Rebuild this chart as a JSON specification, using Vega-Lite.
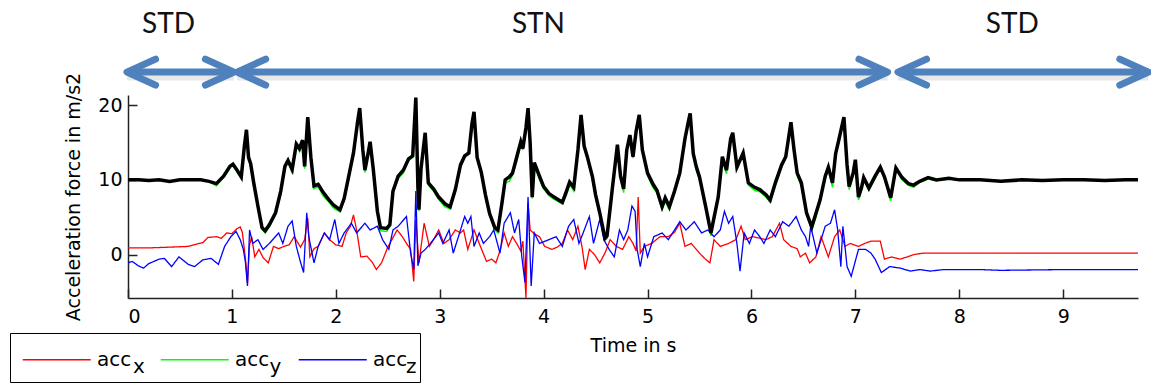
{
"$schema": "https://vega.github.io/schema/vega-lite/v6.json",
"width": 1010, "height": 203,
"autosize": "none",
"padding": {"left": 128, "top": 95, "right": 13, "bottom": 87},
"background": "white",
"config": {
 "view": {"stroke": null},
 "axis": {"labelFont": "DejaVu Sans", "titleFont": "DejaVu Sans", "labelColor": "#000", "titleColor": "#000", "titleFontWeight": "normal", "grid": false, "domainColor": "#222", "tickColor": "#222", "domainWidth": 1.5, "tickWidth": 1.5, "labelFontSize": 19, "titleFontSize": 19}
},
"datasets": {
 "phases": [
  {"phase": "STD", "start": -0.01, "end": 1.02, "label_t": 0.39},
  {"phase": "STN", "start": 1.05, "end": 7.31, "label_t": 3.95},
  {"phase": "STD", "start": 7.41, "end": 9.82, "label_t": 8.51}
 ],
 "acc": [
{"s":"acc_y","t":0,"v":10},{"s":"acc_y","t":0.1,"v":10},{"s":"acc_y","t":0.2,"v":9.9},{"s":"acc_y","t":0.3,"v":10},{"s":"acc_y","t":0.4,"v":9.8},{"s":"acc_y","t":0.5,"v":10},{"s":"acc_y","t":0.6,"v":10},{"s":"acc_y","t":0.7,"v":10},{"s":"acc_y","t":0.78,"v":9.8},{"s":"acc_y","t":0.85,"v":9.2},{"s":"acc_y","t":0.92,"v":10.3},{"s":"acc_y","t":0.98,"v":11.5},{"s":"acc_y","t":1.01,"v":12.1},{"s":"acc_y","t":1.05,"v":11},{"s":"acc_y","t":1.09,"v":10.2},{"s":"acc_y","t":1.12,"v":14.5},{"s":"acc_y","t":1.14,"v":16.7},{"s":"acc_y","t":1.16,"v":12.6},{"s":"acc_y","t":1.18,"v":11.8},{"s":"acc_y","t":1.21,"v":9.4},{"s":"acc_y","t":1.25,"v":6.3},{"s":"acc_y","t":1.29,"v":3.4},{"s":"acc_y","t":1.32,"v":2.9},{"s":"acc_y","t":1.36,"v":3.7},{"s":"acc_y","t":1.42,"v":5.4},{"s":"acc_y","t":1.47,"v":8},{"s":"acc_y","t":1.51,"v":11.6},{"s":"acc_y","t":1.54,"v":12.4},{"s":"acc_y","t":1.58,"v":10.9},{"s":"acc_y","t":1.62,"v":14.6},{"s":"acc_y","t":1.65,"v":13.8},{"s":"acc_y","t":1.68,"v":15.1},{"s":"acc_y","t":1.7,"v":11.5},{"s":"acc_y","t":1.73,"v":18.3},{"s":"acc_y","t":1.76,"v":12.8},{"s":"acc_y","t":1.79,"v":8.8},{"s":"acc_y","t":1.83,"v":9.1},{"s":"acc_y","t":1.88,"v":7.8},{"s":"acc_y","t":1.93,"v":7.1},{"s":"acc_y","t":1.98,"v":6.2},{"s":"acc_y","t":2.04,"v":5.7},{"s":"acc_y","t":2.08,"v":7.2},{"s":"acc_y","t":2.12,"v":9.8},{"s":"acc_y","t":2.17,"v":13.4},{"s":"acc_y","t":2.21,"v":17.6},{"s":"acc_y","t":2.23,"v":19.4},{"s":"acc_y","t":2.26,"v":13.8},{"s":"acc_y","t":2.28,"v":11},{"s":"acc_y","t":2.31,"v":13.3},{"s":"acc_y","t":2.33,"v":14.9},{"s":"acc_y","t":2.36,"v":11},{"s":"acc_y","t":2.4,"v":5.5},{"s":"acc_y","t":2.43,"v":3.2},{"s":"acc_y","t":2.49,"v":3.1},{"s":"acc_y","t":2.52,"v":3.8},{"s":"acc_y","t":2.55,"v":8.2},{"s":"acc_y","t":2.6,"v":10.2},{"s":"acc_y","t":2.65,"v":10.9},{"s":"acc_y","t":2.7,"v":12.6},{"s":"acc_y","t":2.74,"v":13},{"s":"acc_y","t":2.77,"v":20.8},{"s":"acc_y","t":2.79,"v":8.8},{"s":"acc_y","t":2.8,"v":5.8},{"s":"acc_y","t":2.82,"v":11.3},{"s":"acc_y","t":2.86,"v":16.1},{"s":"acc_y","t":2.89,"v":9.3},{"s":"acc_y","t":2.94,"v":8.5},{"s":"acc_y","t":2.99,"v":7.4},{"s":"acc_y","t":3.05,"v":6.4},{"s":"acc_y","t":3.1,"v":6.1},{"s":"acc_y","t":3.15,"v":8.4},{"s":"acc_y","t":3.2,"v":11.7},{"s":"acc_y","t":3.24,"v":13},{"s":"acc_y","t":3.28,"v":13.4},{"s":"acc_y","t":3.31,"v":17.3},{"s":"acc_y","t":3.33,"v":18.9},{"s":"acc_y","t":3.36,"v":12.8},{"s":"acc_y","t":3.4,"v":10.7},{"s":"acc_y","t":3.44,"v":7.6},{"s":"acc_y","t":3.48,"v":5.2},{"s":"acc_y","t":3.53,"v":3.3},{"s":"acc_y","t":3.56,"v":2.9},{"s":"acc_y","t":3.6,"v":6.7},{"s":"acc_y","t":3.63,"v":9.6},{"s":"acc_y","t":3.67,"v":9.8},{"s":"acc_y","t":3.7,"v":10.6},{"s":"acc_y","t":3.74,"v":12.4},{"s":"acc_y","t":3.78,"v":14.9},{"s":"acc_y","t":3.8,"v":14},{"s":"acc_y","t":3.83,"v":16.8},{"s":"acc_y","t":3.85,"v":19.4},{"s":"acc_y","t":3.87,"v":14.8},{"s":"acc_y","t":3.89,"v":7.5},{"s":"acc_y","t":3.91,"v":12},{"s":"acc_y","t":3.96,"v":10},{"s":"acc_y","t":4,"v":8.8},{"s":"acc_y","t":4.05,"v":7.9},{"s":"acc_y","t":4.1,"v":7.4},{"s":"acc_y","t":4.18,"v":6.8},{"s":"acc_y","t":4.22,"v":8},{"s":"acc_y","t":4.25,"v":9.4},{"s":"acc_y","t":4.29,"v":8.5},{"s":"acc_y","t":4.33,"v":13.8},{"s":"acc_y","t":4.36,"v":18.5},{"s":"acc_y","t":4.39,"v":14.3},{"s":"acc_y","t":4.42,"v":12.9},{"s":"acc_y","t":4.47,"v":10},{"s":"acc_y","t":4.5,"v":7.7},{"s":"acc_y","t":4.54,"v":5.3},{"s":"acc_y","t":4.59,"v":1.9},{"s":"acc_y","t":4.61,"v":2.2},{"s":"acc_y","t":4.66,"v":8.4},{"s":"acc_y","t":4.71,"v":14.5},{"s":"acc_y","t":4.74,"v":10.2},{"s":"acc_y","t":4.77,"v":8.3},{"s":"acc_y","t":4.8,"v":13.8},{"s":"acc_y","t":4.83,"v":15.8},{"s":"acc_y","t":4.86,"v":12.9},{"s":"acc_y","t":4.89,"v":16.3},{"s":"acc_y","t":4.92,"v":18.5},{"s":"acc_y","t":4.95,"v":13.8},{"s":"acc_y","t":5,"v":10.6},{"s":"acc_y","t":5.05,"v":9},{"s":"acc_y","t":5.09,"v":8.3},{"s":"acc_y","t":5.14,"v":6.1},{"s":"acc_y","t":5.17,"v":7.1},{"s":"acc_y","t":5.21,"v":6},{"s":"acc_y","t":5.26,"v":8.2},{"s":"acc_y","t":5.31,"v":10.6},{"s":"acc_y","t":5.36,"v":15},{"s":"acc_y","t":5.39,"v":17.4},{"s":"acc_y","t":5.41,"v":18.7},{"s":"acc_y","t":5.44,"v":13.3},{"s":"acc_y","t":5.47,"v":11.2},{"s":"acc_y","t":5.5,"v":10.1},{"s":"acc_y","t":5.56,"v":6.1},{"s":"acc_y","t":5.61,"v":2.5},{"s":"acc_y","t":5.68,"v":7.4},{"s":"acc_y","t":5.72,"v":12.9},{"s":"acc_y","t":5.76,"v":10.8},{"s":"acc_y","t":5.8,"v":15.3},{"s":"acc_y","t":5.82,"v":16.1},{"s":"acc_y","t":5.86,"v":11.4},{"s":"acc_y","t":5.92,"v":13.4},{"s":"acc_y","t":5.97,"v":9.3},{"s":"acc_y","t":6.03,"v":8.6},{"s":"acc_y","t":6.08,"v":8.4},{"s":"acc_y","t":6.14,"v":7.7},{"s":"acc_y","t":6.18,"v":7},{"s":"acc_y","t":6.23,"v":9.2},{"s":"acc_y","t":6.29,"v":11.7},{"s":"acc_y","t":6.33,"v":12.9},{"s":"acc_y","t":6.38,"v":17.5},{"s":"acc_y","t":6.41,"v":13.8},{"s":"acc_y","t":6.44,"v":10.6},{"s":"acc_y","t":6.48,"v":9.2},{"s":"acc_y","t":6.53,"v":5.3},{"s":"acc_y","t":6.58,"v":3.3},{"s":"acc_y","t":6.62,"v":5},{"s":"acc_y","t":6.66,"v":7},{"s":"acc_y","t":6.71,"v":10.2},{"s":"acc_y","t":6.74,"v":11.5},{"s":"acc_y","t":6.78,"v":9},{"s":"acc_y","t":6.81,"v":13.3},{"s":"acc_y","t":6.84,"v":15.1},{"s":"acc_y","t":6.89,"v":18.2},{"s":"acc_y","t":6.92,"v":11.7},{"s":"acc_y","t":6.94,"v":8.7},{"s":"acc_y","t":6.98,"v":10.7},{"s":"acc_y","t":7,"v":12.4},{"s":"acc_y","t":7.03,"v":7.3},{"s":"acc_y","t":7.06,"v":8.7},{"s":"acc_y","t":7.08,"v":10},{"s":"acc_y","t":7.13,"v":8.6},{"s":"acc_y","t":7.19,"v":10.2},{"s":"acc_y","t":7.24,"v":11.4},{"s":"acc_y","t":7.28,"v":10.1},{"s":"acc_y","t":7.34,"v":7.2},{"s":"acc_y","t":7.39,"v":11.3},{"s":"acc_y","t":7.45,"v":10},{"s":"acc_y","t":7.51,"v":9.3},{"s":"acc_y","t":7.56,"v":9},{"s":"acc_y","t":7.62,"v":9.7},{"s":"acc_y","t":7.7,"v":10.1},{"s":"acc_y","t":7.78,"v":9.9},{"s":"acc_y","t":7.9,"v":10.1},{"s":"acc_y","t":8,"v":10},{"s":"acc_y","t":8.2,"v":10},{"s":"acc_y","t":8.4,"v":9.8},{"s":"acc_y","t":8.6,"v":10},{"s":"acc_y","t":8.8,"v":9.9},{"s":"acc_y","t":9,"v":10},{"s":"acc_y","t":9.2,"v":10},{"s":"acc_y","t":9.4,"v":9.9},{"s":"acc_y","t":9.6,"v":10},{"s":"acc_y","t":9.72,"v":10},
{"s":"acc_x","t":0,"v":0.9},{"s":"acc_x","t":0.2,"v":0.9},{"s":"acc_x","t":0.4,"v":1},{"s":"acc_x","t":0.58,"v":1.1},{"s":"acc_x","t":0.66,"v":1.4},{"s":"acc_x","t":0.72,"v":1.6},{"s":"acc_x","t":0.77,"v":2.3},{"s":"acc_x","t":0.85,"v":2.4},{"s":"acc_x","t":0.9,"v":2.2},{"s":"acc_x","t":0.95,"v":2.9},{"s":"acc_x","t":1,"v":2.8},{"s":"acc_x","t":1.05,"v":3.5},{"s":"acc_x","t":1.08,"v":3.7},{"s":"acc_x","t":1.1,"v":3},{"s":"acc_x","t":1.13,"v":-0.5},{"s":"acc_x","t":1.15,"v":-3.8},{"s":"acc_x","t":1.17,"v":1.3},{"s":"acc_x","t":1.19,"v":2.4},{"s":"acc_x","t":1.22,"v":-0.3},{"s":"acc_x","t":1.26,"v":0.7},{"s":"acc_x","t":1.3,"v":-0.4},{"s":"acc_x","t":1.35,"v":-1.1},{"s":"acc_x","t":1.4,"v":1.1},{"s":"acc_x","t":1.45,"v":0.8},{"s":"acc_x","t":1.5,"v":1.1},{"s":"acc_x","t":1.55,"v":1.3},{"s":"acc_x","t":1.6,"v":2.4},{"s":"acc_x","t":1.66,"v":1},{"s":"acc_x","t":1.7,"v":2},{"s":"acc_x","t":1.73,"v":4.9},{"s":"acc_x","t":1.75,"v":-0.3},{"s":"acc_x","t":1.79,"v":0.8},{"s":"acc_x","t":1.83,"v":1.1},{"s":"acc_x","t":1.89,"v":2.9},{"s":"acc_x","t":1.94,"v":2},{"s":"acc_x","t":2,"v":1.3},{"s":"acc_x","t":2.06,"v":1.1},{"s":"acc_x","t":2.1,"v":2.9},{"s":"acc_x","t":2.14,"v":3.8},{"s":"acc_x","t":2.17,"v":5.3},{"s":"acc_x","t":2.2,"v":3.3},{"s":"acc_x","t":2.24,"v":-0.3},{"s":"acc_x","t":2.3,"v":-0.2},{"s":"acc_x","t":2.35,"v":-1},{"s":"acc_x","t":2.39,"v":-2},{"s":"acc_x","t":2.44,"v":-1.1},{"s":"acc_x","t":2.5,"v":1},{"s":"acc_x","t":2.54,"v":2},{"s":"acc_x","t":2.59,"v":3.3},{"s":"acc_x","t":2.64,"v":2.4},{"s":"acc_x","t":2.68,"v":1.5},{"s":"acc_x","t":2.72,"v":0.7},{"s":"acc_x","t":2.75,"v":-3.6},{"s":"acc_x","t":2.77,"v":4.7},{"s":"acc_x","t":2.8,"v":-1.1},{"s":"acc_x","t":2.85,"v":4.2},{"s":"acc_x","t":2.9,"v":1.1},{"s":"acc_x","t":2.94,"v":2},{"s":"acc_x","t":2.99,"v":3.3},{"s":"acc_x","t":3.04,"v":1.5},{"s":"acc_x","t":3.09,"v":2},{"s":"acc_x","t":3.15,"v":3.3},{"s":"acc_x","t":3.2,"v":2.9},{"s":"acc_x","t":3.23,"v":3.3},{"s":"acc_x","t":3.27,"v":0.7},{"s":"acc_x","t":3.33,"v":3.3},{"s":"acc_x","t":3.38,"v":1.5},{"s":"acc_x","t":3.45,"v":-0.9},{"s":"acc_x","t":3.5,"v":-0.6},{"s":"acc_x","t":3.54,"v":-1.1},{"s":"acc_x","t":3.58,"v":0.5},{"s":"acc_x","t":3.62,"v":2.9},{"s":"acc_x","t":3.66,"v":1.1},{"s":"acc_x","t":3.7,"v":2.4},{"s":"acc_x","t":3.74,"v":1.5},{"s":"acc_x","t":3.78,"v":0.5},{"s":"acc_x","t":3.8,"v":1.8},{"s":"acc_x","t":3.83,"v":-5.8},{"s":"acc_x","t":3.85,"v":6.9},{"s":"acc_x","t":3.87,"v":3.3},{"s":"acc_x","t":3.91,"v":2.8},{"s":"acc_x","t":3.96,"v":2.4},{"s":"acc_x","t":4.01,"v":1.1},{"s":"acc_x","t":4.08,"v":0.7},{"s":"acc_x","t":4.13,"v":1},{"s":"acc_x","t":4.18,"v":1.5},{"s":"acc_x","t":4.23,"v":3.3},{"s":"acc_x","t":4.28,"v":2},{"s":"acc_x","t":4.33,"v":3.8},{"s":"acc_x","t":4.37,"v":1},{"s":"acc_x","t":4.4,"v":-2},{"s":"acc_x","t":4.44,"v":0.7},{"s":"acc_x","t":4.49,"v":0},{"s":"acc_x","t":4.54,"v":-1.1},{"s":"acc_x","t":4.59,"v":0.2},{"s":"acc_x","t":4.64,"v":2},{"s":"acc_x","t":4.7,"v":1.1},{"s":"acc_x","t":4.76,"v":0.7},{"s":"acc_x","t":4.82,"v":2.4},{"s":"acc_x","t":4.86,"v":1.5},{"s":"acc_x","t":4.89,"v":0.5},{"s":"acc_x","t":4.91,"v":7.7},{"s":"acc_x","t":4.93,"v":0.2},{"s":"acc_x","t":4.97,"v":1.1},{"s":"acc_x","t":5.04,"v":1.5},{"s":"acc_x","t":5.12,"v":2.4},{"s":"acc_x","t":5.2,"v":2.4},{"s":"acc_x","t":5.26,"v":3},{"s":"acc_x","t":5.31,"v":4.2},{"s":"acc_x","t":5.36,"v":1.1},{"s":"acc_x","t":5.42,"v":1.5},{"s":"acc_x","t":5.5,"v":0.2},{"s":"acc_x","t":5.55,"v":-0.5},{"s":"acc_x","t":5.6,"v":-1.1},{"s":"acc_x","t":5.64,"v":2},{"s":"acc_x","t":5.7,"v":1.1},{"s":"acc_x","t":5.78,"v":1.5},{"s":"acc_x","t":5.85,"v":2},{"s":"acc_x","t":5.9,"v":3.8},{"s":"acc_x","t":5.94,"v":2},{"s":"acc_x","t":6.01,"v":2.4},{"s":"acc_x","t":6.08,"v":2.2},{"s":"acc_x","t":6.14,"v":2},{"s":"acc_x","t":6.2,"v":2.4},{"s":"acc_x","t":6.27,"v":4.2},{"s":"acc_x","t":6.31,"v":2},{"s":"acc_x","t":6.38,"v":1.1},{"s":"acc_x","t":6.44,"v":0.8},{"s":"acc_x","t":6.47,"v":-0.3},{"s":"acc_x","t":6.52,"v":0.2},{"s":"acc_x","t":6.56,"v":-1.1},{"s":"acc_x","t":6.62,"v":-0.3},{"s":"acc_x","t":6.67,"v":2.4},{"s":"acc_x","t":6.74,"v":-0.3},{"s":"acc_x","t":6.8,"v":2.4},{"s":"acc_x","t":6.85,"v":3.3},{"s":"acc_x","t":6.9,"v":1.1},{"s":"acc_x","t":6.95,"v":1.5},{"s":"acc_x","t":7.03,"v":1.1},{"s":"acc_x","t":7.09,"v":1.5},{"s":"acc_x","t":7.15,"v":1.8},{"s":"acc_x","t":7.24,"v":1.8},{"s":"acc_x","t":7.28,"v":-0.6},{"s":"acc_x","t":7.35,"v":-0.3},{"s":"acc_x","t":7.43,"v":-0.6},{"s":"acc_x","t":7.5,"v":-0.3},{"s":"acc_x","t":7.56,"v":0},{"s":"acc_x","t":7.65,"v":0.2},{"s":"acc_x","t":7.8,"v":0.2},{"s":"acc_x","t":8,"v":0.2},{"s":"acc_x","t":9.72,"v":0.2},
{"s":"acc_z","t":0,"v":-1.1},{"s":"acc_z","t":0.04,"v":-0.9},{"s":"acc_z","t":0.1,"v":-1.5},{"s":"acc_z","t":0.15,"v":-1.8},{"s":"acc_z","t":0.2,"v":-1.2},{"s":"acc_z","t":0.25,"v":-0.9},{"s":"acc_z","t":0.3,"v":-0.6},{"s":"acc_z","t":0.35,"v":-0.5},{"s":"acc_z","t":0.42,"v":-1.6},{"s":"acc_z","t":0.49,"v":-0.3},{"s":"acc_z","t":0.58,"v":-1.3},{"s":"acc_z","t":0.64,"v":-1.6},{"s":"acc_z","t":0.72,"v":-0.7},{"s":"acc_z","t":0.8,"v":-0.5},{"s":"acc_z","t":0.87,"v":-1.3},{"s":"acc_z","t":0.93,"v":1.1},{"s":"acc_z","t":0.99,"v":2.4},{"s":"acc_z","t":1.04,"v":3.1},{"s":"acc_z","t":1.08,"v":2},{"s":"acc_z","t":1.11,"v":0.7},{"s":"acc_z","t":1.13,"v":-1},{"s":"acc_z","t":1.15,"v":-4.2},{"s":"acc_z","t":1.17,"v":3.3},{"s":"acc_z","t":1.2,"v":1.5},{"s":"acc_z","t":1.25,"v":2},{"s":"acc_z","t":1.3,"v":0.7},{"s":"acc_z","t":1.36,"v":1.5},{"s":"acc_z","t":1.45,"v":2.9},{"s":"acc_z","t":1.49,"v":1.5},{"s":"acc_z","t":1.54,"v":3.8},{"s":"acc_z","t":1.58,"v":4.5},{"s":"acc_z","t":1.62,"v":1.1},{"s":"acc_z","t":1.66,"v":-1},{"s":"acc_z","t":1.69,"v":-2.4},{"s":"acc_z","t":1.72,"v":5.6},{"s":"acc_z","t":1.74,"v":2.4},{"s":"acc_z","t":1.79,"v":-1.1},{"s":"acc_z","t":1.83,"v":1.1},{"s":"acc_z","t":1.89,"v":2.9},{"s":"acc_z","t":1.94,"v":2},{"s":"acc_z","t":1.99,"v":4.7},{"s":"acc_z","t":2.03,"v":1.5},{"s":"acc_z","t":2.08,"v":2.9},{"s":"acc_z","t":2.15,"v":4.2},{"s":"acc_z","t":2.2,"v":2.9},{"s":"acc_z","t":2.28,"v":4.2},{"s":"acc_z","t":2.33,"v":3.3},{"s":"acc_z","t":2.4,"v":3.8},{"s":"acc_z","t":2.45,"v":2},{"s":"acc_z","t":2.51,"v":0.7},{"s":"acc_z","t":2.55,"v":3.3},{"s":"acc_z","t":2.6,"v":3.8},{"s":"acc_z","t":2.68,"v":5.1},{"s":"acc_z","t":2.72,"v":0.2},{"s":"acc_z","t":2.75,"v":-2},{"s":"acc_z","t":2.77,"v":8.5},{"s":"acc_z","t":2.79,"v":-1.5},{"s":"acc_z","t":2.82,"v":0.2},{"s":"acc_z","t":2.86,"v":0.7},{"s":"acc_z","t":2.91,"v":1.5},{"s":"acc_z","t":2.99,"v":2.9},{"s":"acc_z","t":3.03,"v":1.5},{"s":"acc_z","t":3.09,"v":3.3},{"s":"acc_z","t":3.13,"v":0.2},{"s":"acc_z","t":3.18,"v":2.4},{"s":"acc_z","t":3.24,"v":5.1},{"s":"acc_z","t":3.27,"v":4.2},{"s":"acc_z","t":3.3,"v":5.1},{"s":"acc_z","t":3.33,"v":1.1},{"s":"acc_z","t":3.38,"v":2.9},{"s":"acc_z","t":3.42,"v":1.5},{"s":"acc_z","t":3.48,"v":2.4},{"s":"acc_z","t":3.52,"v":3.3},{"s":"acc_z","t":3.58,"v":0.2},{"s":"acc_z","t":3.62,"v":4.2},{"s":"acc_z","t":3.68,"v":5.6},{"s":"acc_z","t":3.72,"v":2.9},{"s":"acc_z","t":3.76,"v":4.7},{"s":"acc_z","t":3.79,"v":-0.3},{"s":"acc_z","t":3.82,"v":-3.7},{"s":"acc_z","t":3.85,"v":7.7},{"s":"acc_z","t":3.88,"v":-4.2},{"s":"acc_z","t":3.91,"v":2.9},{"s":"acc_z","t":3.96,"v":1.5},{"s":"acc_z","t":4.05,"v":2},{"s":"acc_z","t":4.12,"v":2.4},{"s":"acc_z","t":4.18,"v":1.1},{"s":"acc_z","t":4.24,"v":3.8},{"s":"acc_z","t":4.29,"v":4.7},{"s":"acc_z","t":4.34,"v":1.5},{"s":"acc_z","t":4.38,"v":2.9},{"s":"acc_z","t":4.44,"v":5.1},{"s":"acc_z","t":4.48,"v":1.5},{"s":"acc_z","t":4.54,"v":4.7},{"s":"acc_z","t":4.58,"v":2},{"s":"acc_z","t":4.63,"v":0.7},{"s":"acc_z","t":4.68,"v":-0.3},{"s":"acc_z","t":4.73,"v":3.3},{"s":"acc_z","t":4.77,"v":2},{"s":"acc_z","t":4.81,"v":3.3},{"s":"acc_z","t":4.85,"v":6.5},{"s":"acc_z","t":4.88,"v":5.8},{"s":"acc_z","t":4.9,"v":0.7},{"s":"acc_z","t":4.93,"v":-1.6},{"s":"acc_z","t":4.97,"v":1.5},{"s":"acc_z","t":5,"v":-0.3},{"s":"acc_z","t":5.06,"v":2.4},{"s":"acc_z","t":5.14,"v":2.9},{"s":"acc_z","t":5.2,"v":2},{"s":"acc_z","t":5.31,"v":4.4},{"s":"acc_z","t":5.37,"v":3.3},{"s":"acc_z","t":5.45,"v":4.4},{"s":"acc_z","t":5.52,"v":2.9},{"s":"acc_z","t":5.58,"v":3.3},{"s":"acc_z","t":5.64,"v":2.4},{"s":"acc_z","t":5.7,"v":3.3},{"s":"acc_z","t":5.74,"v":5.8},{"s":"acc_z","t":5.78,"v":4.2},{"s":"acc_z","t":5.82,"v":5.1},{"s":"acc_z","t":5.86,"v":1.5},{"s":"acc_z","t":5.89,"v":-2.2},{"s":"acc_z","t":5.93,"v":2.9},{"s":"acc_z","t":5.98,"v":1.5},{"s":"acc_z","t":6.03,"v":3.3},{"s":"acc_z","t":6.08,"v":2.4},{"s":"acc_z","t":6.12,"v":1.5},{"s":"acc_z","t":6.18,"v":3.3},{"s":"acc_z","t":6.23,"v":2.4},{"s":"acc_z","t":6.3,"v":4.4},{"s":"acc_z","t":6.36,"v":3.8},{"s":"acc_z","t":6.43,"v":5.1},{"s":"acc_z","t":6.48,"v":3.3},{"s":"acc_z","t":6.52,"v":2.4},{"s":"acc_z","t":6.55,"v":1.1},{"s":"acc_z","t":6.57,"v":3.8},{"s":"acc_z","t":6.63,"v":0.2},{"s":"acc_z","t":6.71,"v":3.8},{"s":"acc_z","t":6.76,"v":4.2},{"s":"acc_z","t":6.8,"v":6},{"s":"acc_z","t":6.83,"v":3.3},{"s":"acc_z","t":6.86,"v":-1.6},{"s":"acc_z","t":6.88,"v":3.8},{"s":"acc_z","t":6.92,"v":-1.6},{"s":"acc_z","t":6.96,"v":-2.9},{"s":"acc_z","t":7.03,"v":0.7},{"s":"acc_z","t":7.1,"v":0.7},{"s":"acc_z","t":7.15,"v":0.2},{"s":"acc_z","t":7.19,"v":-0.6},{"s":"acc_z","t":7.25,"v":-2.4},{"s":"acc_z","t":7.33,"v":-1.6},{"s":"acc_z","t":7.43,"v":-1.8},{"s":"acc_z","t":7.53,"v":-2.2},{"s":"acc_z","t":7.62,"v":-2},{"s":"acc_z","t":7.72,"v":-2.2},{"s":"acc_z","t":7.85,"v":-2},{"s":"acc_z","t":8,"v":-2},{"s":"acc_z","t":8.2,"v":-2},{"s":"acc_z","t":8.4,"v":-2.1},{"s":"acc_z","t":9,"v":-2},{"s":"acc_z","t":9.72,"v":-2},
{"s":"mag","t":0,"v":10},{"s":"mag","t":0.1,"v":10},{"s":"mag","t":0.2,"v":9.9},{"s":"mag","t":0.3,"v":10},{"s":"mag","t":0.4,"v":9.8},{"s":"mag","t":0.5,"v":10},{"s":"mag","t":0.6,"v":10},{"s":"mag","t":0.7,"v":10},{"s":"mag","t":0.78,"v":9.8},{"s":"mag","t":0.85,"v":9.5},{"s":"mag","t":0.92,"v":10.5},{"s":"mag","t":0.98,"v":11.8},{"s":"mag","t":1.01,"v":12.1},{"s":"mag","t":1.05,"v":11.3},{"s":"mag","t":1.09,"v":10.4},{"s":"mag","t":1.12,"v":14.5},{"s":"mag","t":1.14,"v":16.7},{"s":"mag","t":1.16,"v":13},{"s":"mag","t":1.18,"v":12.2},{"s":"mag","t":1.21,"v":9.6},{"s":"mag","t":1.25,"v":6.5},{"s":"mag","t":1.29,"v":3.6},{"s":"mag","t":1.32,"v":3.2},{"s":"mag","t":1.36,"v":4},{"s":"mag","t":1.42,"v":5.6},{"s":"mag","t":1.47,"v":8.5},{"s":"mag","t":1.51,"v":11.8},{"s":"mag","t":1.54,"v":12.6},{"s":"mag","t":1.58,"v":11.4},{"s":"mag","t":1.62,"v":14.8},{"s":"mag","t":1.65,"v":14.2},{"s":"mag","t":1.68,"v":15.3},{"s":"mag","t":1.7,"v":11.8},{"s":"mag","t":1.73,"v":18.4},{"s":"mag","t":1.76,"v":13},{"s":"mag","t":1.79,"v":9.2},{"s":"mag","t":1.83,"v":9.4},{"s":"mag","t":1.88,"v":8.3},{"s":"mag","t":1.93,"v":7.4},{"s":"mag","t":1.98,"v":6.6},{"s":"mag","t":2.04,"v":6},{"s":"mag","t":2.08,"v":7.5},{"s":"mag","t":2.12,"v":10.2},{"s":"mag","t":2.17,"v":13.6},{"s":"mag","t":2.21,"v":17.8},{"s":"mag","t":2.23,"v":19.6},{"s":"mag","t":2.26,"v":14},{"s":"mag","t":2.28,"v":11.3},{"s":"mag","t":2.31,"v":13.5},{"s":"mag","t":2.33,"v":15.1},{"s":"mag","t":2.36,"v":11.5},{"s":"mag","t":2.4,"v":5.8},{"s":"mag","t":2.43,"v":3.6},{"s":"mag","t":2.49,"v":3.5},{"s":"mag","t":2.52,"v":4},{"s":"mag","t":2.55,"v":8.5},{"s":"mag","t":2.6,"v":10.5},{"s":"mag","t":2.65,"v":11.3},{"s":"mag","t":2.7,"v":12.8},{"s":"mag","t":2.74,"v":13.2},{"s":"mag","t":2.77,"v":21},{"s":"mag","t":2.79,"v":9},{"s":"mag","t":2.8,"v":6},{"s":"mag","t":2.82,"v":11.5},{"s":"mag","t":2.86,"v":16.3},{"s":"mag","t":2.89,"v":9.6},{"s":"mag","t":2.94,"v":8.8},{"s":"mag","t":2.99,"v":7.7},{"s":"mag","t":3.05,"v":6.8},{"s":"mag","t":3.1,"v":6.4},{"s":"mag","t":3.15,"v":8.7},{"s":"mag","t":3.2,"v":12},{"s":"mag","t":3.24,"v":13.2},{"s":"mag","t":3.28,"v":13.6},{"s":"mag","t":3.31,"v":17.5},{"s":"mag","t":3.33,"v":19.1},{"s":"mag","t":3.36,"v":13},{"s":"mag","t":3.4,"v":11},{"s":"mag","t":3.44,"v":8},{"s":"mag","t":3.48,"v":5.5},{"s":"mag","t":3.53,"v":3.6},{"s":"mag","t":3.56,"v":3.3},{"s":"mag","t":3.6,"v":7},{"s":"mag","t":3.63,"v":10},{"s":"mag","t":3.67,"v":10.4},{"s":"mag","t":3.7,"v":10.9},{"s":"mag","t":3.74,"v":13},{"s":"mag","t":3.78,"v":15.1},{"s":"mag","t":3.8,"v":14.2},{"s":"mag","t":3.83,"v":17},{"s":"mag","t":3.85,"v":19.6},{"s":"mag","t":3.87,"v":15},{"s":"mag","t":3.89,"v":7.7},{"s":"mag","t":3.91,"v":12.3},{"s":"mag","t":3.96,"v":10.5},{"s":"mag","t":4,"v":9.1},{"s":"mag","t":4.05,"v":8.2},{"s":"mag","t":4.1,"v":7.7},{"s":"mag","t":4.18,"v":7},{"s":"mag","t":4.22,"v":8.5},{"s":"mag","t":4.25,"v":9.7},{"s":"mag","t":4.29,"v":9},{"s":"mag","t":4.33,"v":14},{"s":"mag","t":4.36,"v":18.7},{"s":"mag","t":4.39,"v":14.5},{"s":"mag","t":4.42,"v":13.1},{"s":"mag","t":4.47,"v":10.4},{"s":"mag","t":4.5,"v":8},{"s":"mag","t":4.54,"v":5.6},{"s":"mag","t":4.59,"v":2.2},{"s":"mag","t":4.61,"v":2.5},{"s":"mag","t":4.66,"v":8.7},{"s":"mag","t":4.71,"v":14.7},{"s":"mag","t":4.74,"v":10.5},{"s":"mag","t":4.77,"v":8.8},{"s":"mag","t":4.8,"v":14},{"s":"mag","t":4.83,"v":16},{"s":"mag","t":4.86,"v":13.1},{"s":"mag","t":4.89,"v":16.5},{"s":"mag","t":4.92,"v":18.7},{"s":"mag","t":4.95,"v":14},{"s":"mag","t":5,"v":10.9},{"s":"mag","t":5.05,"v":9.5},{"s":"mag","t":5.09,"v":8.6},{"s":"mag","t":5.14,"v":6.4},{"s":"mag","t":5.17,"v":7.6},{"s":"mag","t":5.21,"v":6.4},{"s":"mag","t":5.26,"v":8.5},{"s":"mag","t":5.31,"v":10.9},{"s":"mag","t":5.36,"v":15.5},{"s":"mag","t":5.39,"v":17.6},{"s":"mag","t":5.41,"v":18.9},{"s":"mag","t":5.44,"v":13.5},{"s":"mag","t":5.47,"v":11.7},{"s":"mag","t":5.5,"v":10.4},{"s":"mag","t":5.56,"v":6.4},{"s":"mag","t":5.61,"v":2.9},{"s":"mag","t":5.68,"v":7.7},{"s":"mag","t":5.72,"v":13.1},{"s":"mag","t":5.76,"v":11.3},{"s":"mag","t":5.8,"v":15.5},{"s":"mag","t":5.82,"v":16.3},{"s":"mag","t":5.86,"v":11.7},{"s":"mag","t":5.92,"v":13.6},{"s":"mag","t":5.97,"v":9.6},{"s":"mag","t":6.03,"v":9},{"s":"mag","t":6.08,"v":8.7},{"s":"mag","t":6.14,"v":8},{"s":"mag","t":6.18,"v":7.3},{"s":"mag","t":6.23,"v":9.6},{"s":"mag","t":6.29,"v":12},{"s":"mag","t":6.33,"v":13.1},{"s":"mag","t":6.38,"v":17.7},{"s":"mag","t":6.41,"v":14},{"s":"mag","t":6.44,"v":10.9},{"s":"mag","t":6.48,"v":9.6},{"s":"mag","t":6.53,"v":5.6},{"s":"mag","t":6.58,"v":3.7},{"s":"mag","t":6.62,"v":5.5},{"s":"mag","t":6.66,"v":7.3},{"s":"mag","t":6.71,"v":10.5},{"s":"mag","t":6.74,"v":11.7},{"s":"mag","t":6.78,"v":9.6},{"s":"mag","t":6.81,"v":13.5},{"s":"mag","t":6.84,"v":15.3},{"s":"mag","t":6.89,"v":18.4},{"s":"mag","t":6.92,"v":12},{"s":"mag","t":6.94,"v":9.1},{"s":"mag","t":6.98,"v":11},{"s":"mag","t":7,"v":12.7},{"s":"mag","t":7.03,"v":7.7},{"s":"mag","t":7.06,"v":9},{"s":"mag","t":7.08,"v":10.3},{"s":"mag","t":7.13,"v":8.9},{"s":"mag","t":7.19,"v":10.5},{"s":"mag","t":7.24,"v":11.7},{"s":"mag","t":7.28,"v":10.4},{"s":"mag","t":7.34,"v":7.6},{"s":"mag","t":7.39,"v":11.6},{"s":"mag","t":7.45,"v":10.3},{"s":"mag","t":7.51,"v":9.5},{"s":"mag","t":7.56,"v":9.3},{"s":"mag","t":7.62,"v":9.8},{"s":"mag","t":7.7,"v":10.3},{"s":"mag","t":7.78,"v":10},{"s":"mag","t":7.9,"v":10.2},{"s":"mag","t":8,"v":10},{"s":"mag","t":8.2,"v":10},{"s":"mag","t":8.4,"v":9.8},{"s":"mag","t":8.6,"v":10},{"s":"mag","t":8.8,"v":9.9},{"s":"mag","t":9,"v":10},{"s":"mag","t":9.2,"v":10},{"s":"mag","t":9.4,"v":9.9},{"s":"mag","t":9.6,"v":10},{"s":"mag","t":9.72,"v":10}
 ]
},
"layer": [
 {
  "data": {"name": "acc"},
  "transform": [{"filter": "datum.s == 'acc_y'"}, {"calculate": "slice(datum.s, 4)", "as": "sub"}],
  "mark": {"type": "line", "strokeWidth": 1.5},
  "encoding": {
   "x": {"field": "t", "type": "quantitative", "scale": {"domain": [0, 9.72], "nice": false, "zero": false},
         "axis": {"title": "Time in s", "values": [0,1,2,3,4,5,6,7,8,9], "format": "d", "tickSize": -9, "labelPadding": 18, "titlePadding": 10}},
   "y": {"field": "v", "type": "quantitative", "scale": {"domain": [-5.8, 21.35], "nice": false, "zero": false},
         "axis": {"title": "Acceleration force in m/s2", "values": [0, 10, 20], "format": "d", "tickSize": -9, "labelPadding": 15, "titlePadding": 14}},
   "color": {"field": "s", "type": "nominal", "scale": {"domain": ["acc_x", "acc_y", "acc_z"], "range": ["#ff0000", "#00ff00", "#0000ff"]},
     "legend": {"orient": "none", "legendX": -118, "legendY": 238, "direction": "horizontal", "title": null, "symbolType": "M -1 0 L 3.945 0", "symbolSize": 756, "symbolStrokeWidth": 1.5, "labelExpr": "'acc  '", "labelFont": "DejaVu Sans", "labelFontSize": 20, "labelColor": "#000", "labelOffset": 46, "columnPadding": 25, "padding": 12, "strokeColor": "#000", "labelLimit": 300}},
   "strokeDash": {"field": "sub", "type": "nominal", "scale": {"domain": ["x", "y", "z"], "range": [[1, 0], [1, 0], [1, 0]]},
     "legend": {"orient": "none", "legendX": -115, "legendY": 261.5, "direction": "horizontal", "title": null, "symbolType": "stroke", "symbolSize": 1, "symbolStrokeWidth": 0, "symbolOpacity": 0, "labelFont": "DejaVu Sans", "labelFontSize": 20, "labelColor": "#000", "labelOffset": 100, "columnPadding": 4.5, "padding": 0}}
  }
 },
 {
  "data": {"name": "acc"},
  "transform": [{"filter": "datum.s == 'acc_x'"}, {"calculate": "slice(datum.s, 4)", "as": "sub"}],
  "mark": {"type": "line", "strokeWidth": 1.3},
  "encoding": {
   "x": {"field": "t", "type": "quantitative"},
   "y": {"field": "v", "type": "quantitative"},
   "color": {"field": "s", "type": "nominal"},
   "strokeDash": {"field": "sub", "type": "nominal"}
  }
 },
 {
  "data": {"name": "acc"},
  "transform": [{"filter": "datum.s == 'acc_z'"}, {"calculate": "slice(datum.s, 4)", "as": "sub"}],
  "mark": {"type": "line", "strokeWidth": 1.3},
  "encoding": {
   "x": {"field": "t", "type": "quantitative"},
   "y": {"field": "v", "type": "quantitative"},
   "color": {"field": "s", "type": "nominal"},
   "strokeDash": {"field": "sub", "type": "nominal"}
  }
 },
 {
  "data": {"name": "acc"},
  "transform": [{"filter": "datum.s == 'mag'"}],
  "mark": {"type": "line", "color": "#000", "strokeWidth": 3.5},
  "encoding": {
   "x": {"field": "t", "type": "quantitative"},
   "y": {"field": "v", "type": "quantitative"}
  }
 },
 {
  "data": {"name": "phases"},
  "mark": {"type": "rule", "color": "#7f7f7f", "opacity": 0.18, "strokeWidth": 9, "yOffset": 4},
  "encoding": {
   "x": {"field": "start", "type": "quantitative"},
   "x2": {"field": "end"},
   "y": {"datum": 24.41, "type": "quantitative"}
  }
 },
 {
  "data": {"name": "phases"},
  "mark": {"type": "rule", "color": "#4f81bd", "strokeWidth": 7},
  "encoding": {
   "x": {"field": "start", "type": "quantitative"},
   "x2": {"field": "end"},
   "y": {"datum": 24.41, "type": "quantitative"}
  }
 },
 {
  "data": {"name": "phases"},
  "mark": {"type": "point", "shape": "M 2.2 -1 L 0 0 L 2.2 1", "size": 676, "filled": false, "color": "#4f81bd", "strokeWidth": 7, "strokeCap": "round", "strokeJoin": "round", "opacity": 1},
  "encoding": {
   "x": {"field": "start", "type": "quantitative"},
   "y": {"datum": 24.41, "type": "quantitative"}
  }
 },
 {
  "data": {"name": "phases"},
  "mark": {"type": "point", "shape": "M -2.2 -1 L 0 0 L -2.2 1", "size": 676, "filled": false, "color": "#4f81bd", "strokeWidth": 7, "strokeCap": "round", "strokeJoin": "round", "opacity": 1},
  "encoding": {
   "x": {"field": "end", "type": "quantitative"},
   "y": {"datum": 24.41, "type": "quantitative"}
  }
 },
 {
  "data": {"name": "phases"},
  "mark": {"type": "text", "font": "Lato", "fontSize": 28, "color": "#111", "baseline": "middle", "align": "center"},
  "encoding": {
   "x": {"field": "label_t", "type": "quantitative"},
   "y": {"datum": 30.7, "type": "quantitative"},
   "text": {"field": "phase"}
  }
 }
]
}
